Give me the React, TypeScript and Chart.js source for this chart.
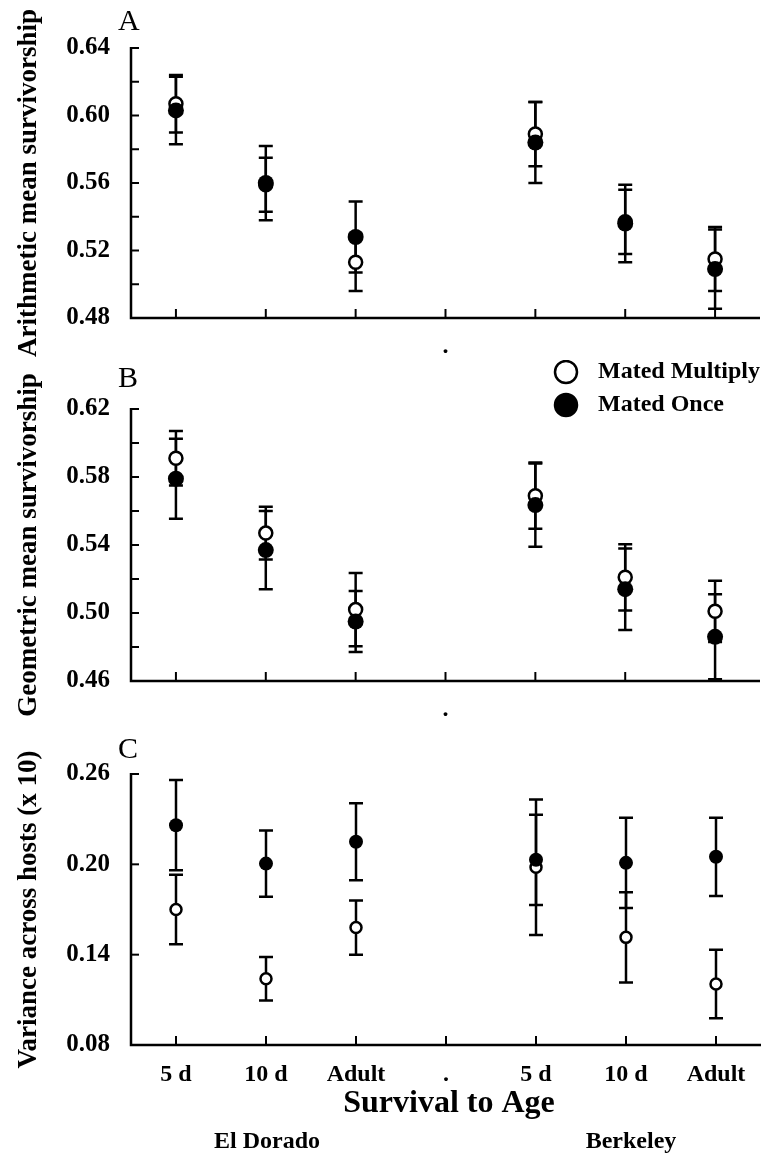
import React, { useEffect, useRef } from "react";
import { Chart, registerables } from "chart.js";

Chart.register(...registerables);

// ---------- data ----------
const CATEGORIES = ["5 d", "10 d", "Adult", ".", "5 d", "10 d", "Adult"];
const REGIONS = ["El Dorado", "Berkeley"];
const SERIES_NAMES = ["Mated Multiply", "Mated Once"];
const X_TITLE = "Survival to Age";

// Panel A: arithmetic mean survivorship
const ARITH_MULTIPLY = [0.607, 0.559, 0.513, null, 0.589, 0.537, 0.515];
const ARITH_MULTIPLY_SE = [0.017, 0.016, 0.017, null, 0.019, 0.019, 0.019];
const ARITH_ONCE = [0.603, 0.56, 0.528, null, 0.584, 0.536, 0.509];
const ARITH_ONCE_SE = [0.02, 0.022, 0.021, null, 0.024, 0.023, 0.0235];
const ARITH_TICK_LABELS = ["0.48", "0.52", "0.56", "0.60", "0.64"];

// Panel B: geometric mean survivorship
const GEO_MULTIPLY = [0.591, 0.547, 0.502, null, 0.569, 0.521, 0.501];
const GEO_MULTIPLY_SE = [0.016, 0.0155, 0.0215, null, 0.0195, 0.0195, 0.018];
const GEO_ONCE = [0.579, 0.537, 0.495, null, 0.5635, 0.514, 0.486];
const GEO_ONCE_SE = [0.0235, 0.023, 0.018, null, 0.0245, 0.024, 0.025];
const GEO_TICK_LABELS = ["0.46", "0.50", "0.54", "0.58", "0.62"];

// Panel C: variance across hosts (x 10)
const VAR_MULTIPLY = [0.17, 0.124, 0.158, null, 0.198, 0.1515, 0.1205];
const VAR_MULTIPLY_SE = [0.023, 0.0145, 0.018, null, 0.045, 0.03, 0.0227];
const VAR_ONCE = [0.226, 0.2005, 0.215, null, 0.203, 0.201, 0.205];
const VAR_ONCE_SE = [0.03, 0.022, 0.0255, null, 0.03, 0.03, 0.026];
const VAR_TICK_LABELS = ["0.08", "0.14", "0.20", "0.26"];

const FONT = '"Liberation Serif", "Times New Roman", serif';

type PanelSpec = {
  letter: string;
  yTitle: string;
  min: number;
  max: number;
  step: number;
  tickLabels: string[];
  multiply: (number | null)[];
  multiplySe: (number | null)[];
  once: (number | null)[];
  onceSe: (number | null)[];
  fullXLabels: boolean;
  top: number;
  height: number;
  plotTop: number;
  xHeight: number;
  xPad: number;
  letterBaseline: number;
  openR: number;
  filledR: number;
  legend?: boolean;
  footer?: boolean;
};

const PANELS: PanelSpec[] = [
  {
    letter: "A",
    yTitle: "Arithmetic mean survivorship",
    min: 0.48,
    max: 0.64,
    step: 0.02,
    tickLabels: ARITH_TICK_LABELS,
    multiply: ARITH_MULTIPLY,
    multiplySe: ARITH_MULTIPLY_SE,
    once: ARITH_ONCE,
    onceSe: ARITH_ONCE_SE,
    fullXLabels: false,
    top: 0,
    height: 360,
    plotTop: 48,
    xHeight: 42,
    xPad: 6,
    letterBaseline: 30,
    openR: 6.5,
    filledR: 8,
  },
  {
    letter: "B",
    yTitle: "Geometric mean survivorship",
    min: 0.46,
    max: 0.62,
    step: 0.02,
    tickLabels: GEO_TICK_LABELS,
    multiply: GEO_MULTIPLY,
    multiplySe: GEO_MULTIPLY_SE,
    once: GEO_ONCE,
    onceSe: GEO_ONCE_SE,
    fullXLabels: false,
    top: 360,
    height: 360,
    plotTop: 49,
    xHeight: 39,
    xPad: 6,
    letterBaseline: 27,
    openR: 6.5,
    filledR: 8,
    legend: true,
  },
  {
    letter: "C",
    yTitle: "Variance across hosts (x 10)",
    min: 0.08,
    max: 0.26,
    step: 0.06,
    tickLabels: VAR_TICK_LABELS,
    multiply: VAR_MULTIPLY,
    multiplySe: VAR_MULTIPLY_SE,
    once: VAR_ONCE,
    onceSe: VAR_ONCE_SE,
    fullXLabels: true,
    top: 720,
    height: 435,
    plotTop: 54,
    xHeight: 110,
    xPad: 7,
    letterBaseline: 38,
    openR: 5.5,
    filledR: 7,
    footer: true,
  },
];

const WIDTH = 769;
const Y_AXIS_WIDTH = 131;

function Panel({ spec }: { spec: PanelSpec }) {
  const ref = useRef<HTMLCanvasElement>(null);

  useEffect(() => {
    const canvas = ref.current;
    if (!canvas) return;

    const decor = {
      id: "decor",
      beforeDatasetsDraw(chart: any) {
        const { ctx, chartArea } = chart;
        const xs = chart.scales.x;
        const ys = chart.scales.y;
        ctx.save();
        ctx.strokeStyle = "#000";
        ctx.lineCap = "butt";
        // axis lines
        ctx.lineWidth = 2.5;
        ctx.beginPath();
        ctx.moveTo(chartArea.left, chartArea.top - 1);
        ctx.lineTo(chartArea.left, chartArea.bottom);
        ctx.lineTo(chartArea.right, chartArea.bottom);
        ctx.stroke();
        // inward y ticks
        ctx.lineWidth = 2;
        ys.ticks.forEach((t: any) => {
          const py = ys.getPixelForValue(t.value);
          ctx.beginPath();
          ctx.moveTo(chartArea.left, py);
          ctx.lineTo(chartArea.left + 8, py);
          ctx.stroke();
        });
        // inward x ticks
        xs.ticks.forEach((_t: any, i: number) => {
          const px = xs.getPixelForTick(i);
          ctx.beginPath();
          ctx.moveTo(px, chartArea.bottom);
          ctx.lineTo(px, chartArea.bottom - 9);
          ctx.stroke();
        });
        // error bars
        chart.data.datasets.forEach((ds: any, di: number) => {
          const meta = chart.getDatasetMeta(di);
          meta.data.forEach((pt: any, i: number) => {
            const v = ds.data[i];
            const e = ds.errors ? ds.errors[i] : null;
            if (v == null || e == null) return;
            const px = pt.x;
            const yTop = ys.getPixelForValue(v + e);
            const yBot = ys.getPixelForValue(v - e);
            ctx.lineWidth = 2.5;
            ctx.beginPath();
            ctx.moveTo(px, yTop);
            ctx.lineTo(px, yBot);
            ctx.stroke();
            ctx.beginPath();
            ctx.moveTo(px - 7, yTop);
            ctx.lineTo(px + 7, yTop);
            ctx.moveTo(px - 7, yBot);
            ctx.lineTo(px + 7, yBot);
            ctx.stroke();
          });
        });
        ctx.restore();
      },
      afterDraw(chart: any) {
        const { ctx, chartArea } = chart;
        const xs = chart.scales.x;
        ctx.save();
        ctx.fillStyle = "#000";
        // panel letter
        ctx.font = `30px ${FONT}`;
        ctx.textAlign = "left";
        ctx.textBaseline = "alphabetic";
        ctx.fillText(spec.letter, 118, spec.letterBaseline);
        // y title
        ctx.save();
        ctx.translate(29, (chartArea.top + chartArea.bottom) / 2);
        ctx.rotate(-Math.PI / 2);
        ctx.font = `bold 27px ${FONT}`;
        ctx.textAlign = "center";
        ctx.textBaseline = "middle";
        ctx.fillText(spec.yTitle, 0, 0);
        ctx.restore();
        // legend
        if (spec.legend) {
          const items = [
            { name: SERIES_NAMES[0], fill: "#fff", y: 12 },
            { name: SERIES_NAMES[1], fill: "#000", y: 45 },
          ];
          items.forEach((it) => {
            ctx.beginPath();
            ctx.arc(566, it.y, 11, 0, Math.PI * 2);
            ctx.fillStyle = it.fill;
            ctx.fill();
            ctx.lineWidth = 2.5;
            ctx.strokeStyle = "#000";
            ctx.stroke();
            ctx.fillStyle = "#000";
            ctx.font = `bold 24px ${FONT}`;
            ctx.textAlign = "left";
            ctx.textBaseline = "middle";
            ctx.fillText(it.name, 598, it.y);
          });
        }
        // footer
        if (spec.footer) {
          ctx.fillStyle = "#000";
          ctx.textAlign = "center";
          ctx.textBaseline = "middle";
          ctx.font = `bold 32px ${FONT}`;
          ctx.fillText(X_TITLE, (chartArea.left + chartArea.right) / 2 + 3, 384);
          ctx.font = `bold 24px ${FONT}`;
          ctx.fillText(REGIONS[0], xs.getPixelForTick(1) + 1, 422);
          ctx.fillText(REGIONS[1], xs.getPixelForTick(5) + 5, 422);
        }
        ctx.restore();
      },
    };

    const chart = new Chart(canvas, {
      type: "line",
      data: {
        labels: CATEGORIES,
        datasets: [
          {
            label: SERIES_NAMES[1],
            data: spec.once,
            errors: spec.onceSe,
            showLine: false,
            pointRadius: spec.filledR,
            pointHoverRadius: spec.filledR,
            pointBackgroundColor: "#000",
            pointBorderColor: "#000",
            pointBorderWidth: 0,
            order: 0,
          } as any,
          {
            label: SERIES_NAMES[0],
            data: spec.multiply,
            errors: spec.multiplySe,
            showLine: false,
            pointRadius: spec.openR,
            pointHoverRadius: spec.openR,
            pointBackgroundColor: "#fff",
            pointBorderColor: "#000",
            pointBorderWidth: 2.5,
            order: 1,
          } as any,
        ],
      },
      options: {
        animation: false,
        responsive: false,
        maintainAspectRatio: false,
        events: [],
        layout: { padding: { top: spec.plotTop, right: 4, left: 0, bottom: 0 } },
        plugins: { legend: { display: false }, tooltip: { enabled: false } },
        scales: {
          x: {
            type: "category",
            offset: true,
            grid: { display: false },
            border: { display: false },
            ticks: {
              autoSkip: false,
              maxRotation: 0,
              padding: spec.xPad,
              color: "#000",
              font: { family: FONT, size: 24, weight: "bold" },
              callback: (_v: any, i: number) =>
                spec.fullXLabels ? CATEGORIES[i] : CATEGORIES[i] === "." ? "." : "",
            },
            afterFit: (s: any) => {
              s.height = spec.xHeight;
            },
          },
          y: {
            min: spec.min,
            max: spec.max,
            grid: { display: false },
            border: { display: false },
            ticks: {
              stepSize: spec.step,
              autoSkip: false,
              padding: 13,
              color: "#000",
              font: { family: FONT, size: 25, weight: "bold" },
              callback: (v: any) => {
                const s = Number(v).toFixed(2);
                return spec.tickLabels.includes(s) ? s : "";
              },
            },
            afterFit: (s: any) => {
              s.width = Y_AXIS_WIDTH;
            },
          },
        },
      } as any,
      plugins: [decor],
    });

    return () => chart.destroy();
  }, [spec]);

  return (
    <canvas
      ref={ref}
      width={WIDTH}
      height={spec.height}
      style={{ position: "absolute", left: 0, top: spec.top, display: "block" }}
    />
  );
}

export default function App() {
  useEffect(() => {
    document.body.style.margin = "0";
    document.body.style.background = "#fff";
  }, []);
  return (
    <div style={{ position: "relative", width: WIDTH, height: 1155, background: "#fff" }}>
      {PANELS.map((p) => (
        <Panel key={p.letter} spec={p} />
      ))}
    </div>
  );
}
